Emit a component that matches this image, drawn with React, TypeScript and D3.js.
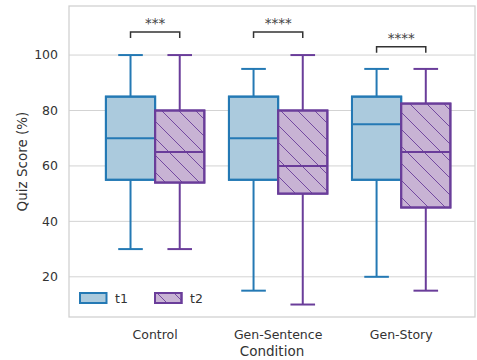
import * as d3 from 'd3';

// Data
const conditions = ['Control', 'Gen-Sentence', 'Gen-Story'];
const timepoints = ['t1', 't2'];
// [whiskerLow, q1, median, q3, whiskerHigh] per condition
const t1Stats = [
  [30, 55, 70, 85, 100],
  [15, 55, 70, 85, 95],
  [20, 55, 75, 85, 95],
];
const t2Stats = [
  [30, 54, 65, 80, 100],
  [10, 50, 60, 80, 100],
  [15, 45, 65, 82.5, 95],
];
const sigLabels = ['***', '****', '****'];
const sigLevels = [108.3, 108.3, 103];
const yTicks = [20, 40, 60, 80, 100];

const width = 477;
const height = 360;
const plot = { left: 69, right: 475, top: 6, bottom: 317 };

const fills = ['#abcadd', '#c8b3d4'];
const strokes = ['#2479b4', '#6a3d9a'];
const font = 'DejaVu Sans, sans-serif';

export default function App() {
  const x = d3.scaleLinear().domain([-0.7, 2.6]).range([plot.left, plot.right]);
  const y = d3.scaleLinear().domain([5.5, 117.7]).range([plot.bottom, plot.top]);
  const boxW = x(0.4) - x(0);
  const capW = boxW / 2;
  const series = [t1Stats, t2Stats];

  return (
    <svg
      width={width}
      height={height}
      style={{ position: 'absolute', left: 0, top: 0, background: '#fff' }}
      fontFamily={font}
    >
      <defs>
        <pattern id="hatch" patternUnits="userSpaceOnUse" width={17} height={17}>
          <path d="M-2,-2 L19,19 M-2,15 L2,19 M15,-2 L19,2" stroke={strokes[1]} strokeWidth={0.9} />
        </pattern>
      </defs>

      {/* grid */}
      {yTicks.map((t) => (
        <line key={t} x1={plot.left} x2={plot.right} y1={y(t)} y2={y(t)} stroke="#d3d3d3" strokeWidth={1} />
      ))}
      {/* spines */}
      <rect
        x={plot.left}
        y={plot.top}
        width={plot.right - plot.left}
        height={plot.bottom - plot.top}
        fill="none"
        stroke="#cfcfcf"
        strokeWidth={1.25}
      />

      {/* y ticks */}
      {yTicks.map((t) => (
        <text key={t} x={58} y={y(t)} dy="0.35em" textAnchor="end" fontSize={12.5} fill="#333">
          {t}
        </text>
      ))}
      <text
        transform={`translate(22,${(plot.top + plot.bottom) / 2}) rotate(-90)`}
        dy="0.35em"
        textAnchor="middle"
        fontSize={13.5}
        fill="#333"
      >
        Quiz Score (%)
      </text>

      {/* x ticks */}
      {conditions.map((c, i) => (
        <text key={c} x={x(i)} y={338.5} textAnchor="middle" fontSize={12.5} fill="#333">
          {c}
        </text>
      ))}
      <text x={(plot.left + plot.right) / 2} y={356} textAnchor="middle" fontSize={13.5} fill="#333">
        Condition
      </text>

      {/* boxes */}
      {series.map((stats, s) =>
        stats.map((d, i) => {
          const x0 = x(i) + (s === 0 ? -boxW : 0);
          const cx = x0 + boxW / 2;
          const [lo, q1, med, q3, hi] = d;
          return (
            <g key={`${s}-${i}`} stroke={strokes[s]} strokeWidth={2}>
              <line x1={cx} x2={cx} y1={y(q1)} y2={y(lo)} />
              <line x1={cx} x2={cx} y1={y(q3)} y2={y(hi)} />
              <line x1={cx - capW / 2} x2={cx + capW / 2} y1={y(lo)} y2={y(lo)} />
              <line x1={cx - capW / 2} x2={cx + capW / 2} y1={y(hi)} y2={y(hi)} />
              <rect x={x0} y={y(q3)} width={boxW} height={y(q1) - y(q3)} fill={fills[s]} />
              {s === 1 && (
                <rect x={x0} y={y(q3)} width={boxW} height={y(q1) - y(q3)} fill="url(#hatch)" stroke="none" />
              )}
              <rect x={x0} y={y(q3)} width={boxW} height={y(q1) - y(q3)} fill="none" />
              <line x1={x0} x2={x0 + boxW} y1={y(med)} y2={y(med)} />
            </g>
          );
        }),
      )}

      {/* significance brackets */}
      {conditions.map((c, i) => {
        const xa = x(i) - boxW / 2;
        const xb = x(i) + boxW / 2;
        const yl = y(sigLevels[i]);
        return (
          <g key={`sig-${c}`}>
            <path
              d={`M${xa},${yl + 6} V${yl} H${xb} V${yl + 6}`}
              fill="none"
              stroke="#333"
              strokeWidth={1.5}
            />
            <text x={(xa + xb) / 2} y={yl - 4} textAnchor="middle" fontSize={13.5} fill="#444">
              {sigLabels[i]}
            </text>
          </g>
        );
      })}

      {/* legend */}
      {timepoints.map((t, s) => {
        const lx = 80 + s * 75;
        return (
          <g key={t}>
            <rect x={lx} y={293} width={26.5} height={10} fill={fills[s]} stroke={strokes[s]} strokeWidth={2} />
            {s === 1 && (
              <rect x={lx} y={293} width={26.5} height={10} fill="url(#hatch)" stroke={strokes[s]} strokeWidth={2} />
            )}
            <text x={lx + 35} y={303} fontSize={12.5} fill="#333">
              {t}
            </text>
          </g>
        );
      })}
    </svg>
  );
}
